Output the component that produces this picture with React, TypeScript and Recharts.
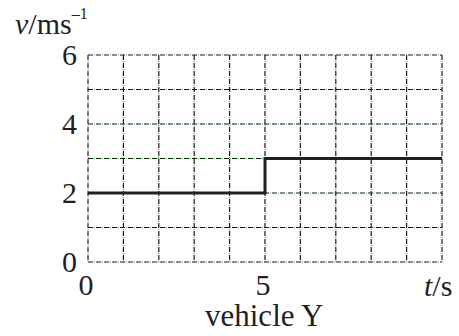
import { LineChart, Line, XAxis, YAxis, CartesianGrid } from 'recharts'

// time (s) and velocity (m/s) of vehicle Y
const times = [0, 5, 10]
const speeds = [2, 3, 3]

const xTicks = [0, 1, 2, 3, 4, 5, 6, 7, 8, 9, 10]
const xLabelled = [0, 5]
const yTicks = [0, 1, 2, 3, 4, 5, 6]
const yLabelled = [0, 2, 4, 6]

const data = times.map((t, i) => ({ t, v: speeds[i] }))

const FONT = '"Liberation Serif", "Times New Roman", serif'
const INK = '#231f20'

function XTick({ x, y, payload }: any) {
  if (!xLabelled.includes(payload.value)) return null
  return (
    <text x={x - 2} y={y} dy={25} textAnchor="middle" fontFamily={FONT} fontSize={30} fill={INK}>
      {payload.value}
    </text>
  )
}

function YTick({ x, y, payload }: any) {
  if (!yLabelled.includes(payload.value)) return null
  return (
    <text x={x - 3} y={y} dy={10} textAnchor="end" fontFamily={FONT} fontSize={30} fill={INK}>
      {payload.value}
    </text>
  )
}

export default function App() {
  return (
    <div style={{ position: 'absolute', left: 0, top: 0, width: 459, height: 336, background: '#fff', fontFamily: FONT, color: INK }}>
      <LineChart width={459} height={336} data={data} margin={{ top: 55, right: 17, left: 0, bottom: 0 }}>
        <CartesianGrid stroke="#22cc22" strokeWidth={1.2} strokeDasharray="1 7" strokeDashoffset={-6} />
        <CartesianGrid stroke="#1a1a1a" strokeWidth={1.2} strokeDasharray="5 3" />
        <XAxis
          dataKey="t"
          type="number"
          domain={[0, 10]}
          ticks={xTicks}
          axisLine={false}
          tickLine={false}
          tick={<XTick />}
          height={74}
          interval={0}
        />
        <YAxis
          type="number"
          domain={[0, 6]}
          ticks={yTicks}
          axisLine={false}
          tickLine={false}
          tick={<YTick />}
          width={88}
          interval={0}
        />
        <Line
          type="stepAfter"
          dataKey="v"
          stroke={INK}
          strokeWidth={3}
          dot={false}
          isAnimationActive={false}
        />
      </LineChart>
      <div style={{ position: 'absolute', left: 15, top: 14, fontSize: 30, lineHeight: '20px', whiteSpace: 'nowrap' }}>
        <i>v</i>/ms<sup style={{ fontSize: 16, lineHeight: 0, position: 'relative', top: -4 }}>–1</sup>
      </div>
      <div style={{ position: 'absolute', left: 424, top: 276, fontSize: 30, lineHeight: '20px', whiteSpace: 'nowrap' }}>
        <i>t</i>/s
      </div>
      <div style={{ position: 'absolute', left: 205, top: 305, fontSize: 31, lineHeight: '22px', whiteSpace: 'nowrap' }}>
        vehicle Y
      </div>
    </div>
  )
}
